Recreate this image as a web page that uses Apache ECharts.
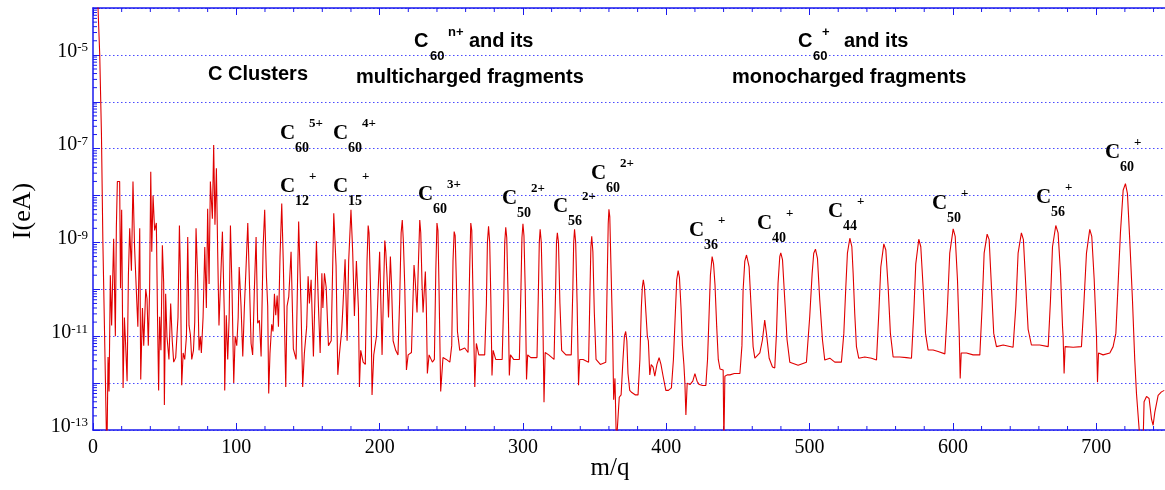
<!DOCTYPE html>
<html><head><meta charset="utf-8">
<script src="https://cdn.jsdelivr.net/npm/echarts@6/dist/echarts.min.js"></script>
<style>html,body{margin:0;padding:0;background:#fff}#c{width:1165px;height:490px}</style>
</head><body><div id="c"></div>
<script>
// ---- data: [m/q, I (A)] ----
const clusterTrace = [
[3.0,2e-4],[3.5,1e-4],[4.7,1e-5],[5.9,2e-7],[6.9,1e-9],[9.3,1e-13],[9.8,5e-14],[10.5,3.6e-12],[11.2,6.6e-13],[12.1,2e-10],[13,1.7e-11],[14.4,1.2e-9],[15.6,1e-11],[16.3,2.1e-9],[17,2e-8],[18.6,2e-8],[19.2,1.05e-10],[20,5e-9],[21,7.9e-13],[21.9,2.5e-11],[22.8,6.3e-12],[23.8,1.1e-12],[24.7,2e-10],[25.6,2e-9],[26.8,2.5e-10],[27.9,2e-8],[29,8e-10],[30.2,1e-10],[31.3,1.6e-11],[32.6,2e-9],[33.3,1.2e-12],[34.5,4e-11],[35.4,6.3e-12],[36.8,1e-10],[37.7,6.3e-11],[38.6,6.3e-12],[39.5,1e-10],[40.3,3.2e-8],[41,6.3e-10],[41.9,1e-8],[43,1.8e-9],[44.2,2.6e-9],[45,2.8e-11],[45.8,7e-13],[46.5,2.6e-11],[47.4,5e-12],[48.4,8.7e-10],[49.3,1.4e-10],[49.8,3.4e-13],[50.7,8e-11],[51.6,1e-11],[53,3.2e-12],[54.2,5e-11],[55.3,8e-12],[56.3,2.8e-12],[57.7,3.5e-12],[58.6,3.2e-12],[59.3,2.5e-11],[60.3,2.3e-9],[61,2.2e-10],[61.9,9e-13],[62.9,4.4e-12],[64,3.2e-12],[65.2,1e-11],[66.1,1.3e-9],[67,1.7e-11],[68,1.05e-11],[68.9,3.2e-12],[70.1,5e-12],[71,2e-11],[71.9,2e-9],[73,1.8e-10],[74,5e-12],[74.9,1e-11],[75.6,4.4e-12],[76.8,2.5e-11],[78,8e-10],[79.1,4e-11],[80,5.2e-9],[81,1.3e-10],[81.9,2e-8],[82.8,2e-8],[83.3,3.2e-9],[84.2,1.2e-7],[85.1,2.4e-9],[86.1,3.8e-8],[87,6.3e-10],[87.9,1.7e-11],[89,1.6e-11],[90.3,1.7e-9],[91.6,3.2e-11],[91.9,7e-13],[93,2.8e-11],[94,3.2e-12],[95,2.5e-11],[95.9,2.3e-9],[97,1e-10],[98.2,1e-12],[99.2,1e-11],[100.3,6.3e-12],[101.3,2.5e-11],[102,3e-10],[103.3,4.4e-11],[104.5,3.7e-12],[105.6,4e-11],[106.8,3e-10],[108,2.6e-9],[109.1,1.6e-10],[110.3,7e-12],[111.4,4e-12],[112.6,1e-10],[113.8,1.3e-9],[114.9,1.9e-11],[116.1,2.2e-11],[117.3,3.7e-12],[118.7,8e-10],[119.8,5e-9],[121,1.9e-10],[121.9,4.4e-11],[122.6,6e-13],[123.5,4.4e-12],[124.7,1.8e-11],[125.6,1.26e-11],[126.6,8e-11],[127.5,2.8e-11],[128.5,7.4e-11],[129.4,1.6e-11],[130.5,5e-10],[131.7,6.8e-9],[132.8,3.5e-10],[134.5,8.3e-13],[135.4,4.4e-11],[136.6,7e-11],[138.2,6.3e-10],[139.8,5.4e-12],[141.7,3.2e-12],[143.5,2.8e-9],[145.1,5e-11],[146.3,8.3e-13],[147.5,4.4e-12],[149.1,1.6e-11],[150.1,1.9e-10],[151,5e-11],[152.2,1.6e-10],[153.8,3.7e-12],[155.9,1.07e-9],[157.3,4.4e-11],[158.5,4.4e-12],[159.7,2.2e-10],[160.4,4e-11],[161.5,2.2e-10],[162.7,1.1e-10],[164.3,6.3e-12],[166.2,8e-12],[168,4.2e-9],[169.6,3.2e-10],[170.8,1.5e-12],[171.9,4e-12],[173.6,1.4e-11],[174.5,5e-11],[175.9,4.4e-10],[177.3,8e-12],[178.4,4e-10],[180,5e-9],[181.2,6.3e-10],[182.4,2.7e-11],[183.8,4e-10],[185.2,4e-11],[185.9,8.3e-13],[186.8,5e-12],[188.5,2.8e-12]
];
const multiTrace = [
[190,2.5e-12],[191.2,4e-10],[192,2.3e-9],[192.6,1.6e-9],[193.4,2e-10],[194,3.5e-11],[194.7,5.6e-13],[195.9,4e-12],[197.8,1e-11],[199,1e-10],[200,6.3e-10],[200.8,6.3e-11],[201.7,4e-12],[202.6,6.3e-11],[203.6,1.1e-9],[204.3,6.3e-10],[205.2,1.8e-10],[206.2,2.5e-11],[207.5,5e-10],[208.3,1.26e-10],[209.4,8e-12],[211.2,5e-12],[212.8,4e-12],[214,6.3e-11],[215,1.6e-9],[215.8,3e-9],[216.6,1e-9],[217.5,1.26e-10],[218.7,1.9e-12],[219.9,4e-12],[222.2,4.5e-12],[223.2,5e-11],[224,3.3e-10],[224.8,1.6e-10],[226.1,3.2e-11],[227,3.2e-10],[228,3e-9],[228.7,1.6e-9],[229.6,1.26e-10],[230.3,3.2e-11],[231.9,2.4e-10],[232.6,4e-11],[233.3,1.6e-12],[234.5,4e-12],[236.8,2.8e-12],[238.2,3.2e-12],[239.2,2.5e-10],[240,2.6e-9],[240.7,1.8e-9],[241.4,1.26e-10],[242.6,6.6e-13],[244.2,3.5e-12],[246.5,3.2e-12],[249,2.8e-12],[250.3,6.3e-12],[251.2,4e-10],[252,1.7e-9],[252.7,1.4e-9],[253.5,1.6e-10],[254.3,1.26e-11],[255.9,5e-12],[259.4,5.6e-12],[261.7,4.5e-12],[262.8,2.5e-10],[263.6,2.6e-9],[264.3,1.8e-9],[265.2,6.3e-11],[266.4,8.3e-13],[267.5,7e-12],[269.2,4e-12],[273.3,4e-12],[274.5,5e-11],[275.2,1e-9],[276,2.2e-9],[276.8,1e-9],[277.6,6.3e-11],[278.4,1.45e-12],[279.2,5e-12],[281,3.2e-12],[285.5,3.2e-12],[286.6,6.3e-11],[287.3,1e-9],[288,2.1e-9],[288.7,1.26e-9],[289.6,8e-11],[290.5,1.45e-12],[291.3,4e-12],[293.5,3.2e-12],[297.5,3.2e-12],[298.6,1e-10],[299.3,1.26e-9],[300,2.5e-9],[300.7,1.4e-9],[301.6,1e-10],[302.5,1.2e-12],[303.3,4e-12],[305.5,3.5e-12],[309.8,3.5e-12],[310.8,1e-10],[311.4,1e-9],[312,1.9e-9],[312.8,1e-9],[313.8,4e-11],[314.7,3.9e-13],[315.5,4.5e-12],[318,4e-12],[321.7,3.2e-12],[322.8,1e-10],[323.4,1e-9],[324,1.6e-9],[324.8,1e-9],[325.8,5e-11],[327,5e-12],[330,4e-12],[333.7,4e-12],[334.8,1e-10],[335.4,1e-9],[336,1.9e-9],[336.8,1e-9],[337.8,5e-11],[338.8,9e-13],[339.6,3.2e-12],[342,3.2e-12],[345.8,2.8e-12],[346.8,1e-10],[347.4,8e-10],[348,1.35e-9],[348.8,6.3e-10],[349.8,3.2e-11],[351,3.2e-12],[354,2.5e-12],[357.8,2.8e-12],[358.8,1.6e-10],[359.5,2.5e-9],[360,5.1e-9],[360.6,3.5e-9],[361.5,2.5e-10],[362.6,1e-11],[363.3,4.4e-13],[364.2,1.26e-12],[365.2,5e-14],[366.3,5e-14],[367.2,5e-13],[368.5,5.6e-13],[369.8,3.2e-12],[370.8,1e-11],[371.7,1.26e-11],[372.5,8e-12],[373.3,1.6e-12],[374.5,7e-13],[376,6.3e-13],[378.5,5.6e-13],[380.3,5.6e-13],[381.6,3.2e-12],[382.6,4e-11],[383.3,1.1e-10],[384,1.6e-10],[384.8,1.1e-10],[385.8,3.2e-11],[386.8,1e-11],[387.5,8e-12],[388.5,1.5e-12],[389.5,2.5e-12],[390.8,2.2e-12],[392,1.4e-12],[393.5,2.5e-12],[395,3.5e-12],[396.3,2.5e-12],[397.8,1.4e-12],[399.7,7e-13],[401.5,7e-13],[403.6,7.9e-13],[405,3.2e-12],[406.2,2.5e-11],[407.3,1.6e-10],[408.3,2.5e-10],[409.2,1.8e-10],[410.3,4e-11],[411.3,6.3e-12],[412.3,2.5e-12],[413,1e-12],[413.7,2.1e-13],[414.6,1e-12],[416.5,9.3e-13],[418.5,1.1e-12],[420,1.6e-12],[421.5,1.1e-12],[423,9.3e-13],[425.5,8.9e-13],[427.6,8.9e-13],[428.8,3.2e-12],[429.8,2.5e-11],[430.8,2e-10],[432,5e-10],[433,3.5e-10],[434,1.26e-10],[435.2,1.6e-11],[436.3,3.2e-12],[437.5,2e-12],[439.7,1.9e-12],[440.2,5e-14],[440.9,1.4e-12],[442.5,1.5e-12],[444.4,1.5e-12],[447.5,1.6e-12],[451.4,1.6e-12]
];
const monoTrace = [
[452.8,6.3e-12],[453.6,9.3e-11],[454.8,4e-10],[456,5.4e-10],[457.8,3e-10],[459.4,3.2e-11],[460.6,6e-12],[461.8,3.4e-12],[465.3,4.4e-12],[467.1,8.3e-12],[468.7,2.2e-11],[469.9,1.15e-11],[471.8,3.4e-12],[474.1,2.2e-12],[475.7,2.1e-12],[476.9,1.15e-11],[478,1.35e-10],[479.2,5e-10],[479.9,6e-10],[481.1,4.3e-10],[482.7,5.9e-11],[484.3,8.3e-12],[486.2,2.8e-12],[492,2.4e-12],[497.8,2.8e-12],[500.1,2.6e-11],[501.8,2.2e-10],[502.9,5.9e-10],[504.1,7.2e-10],[505.5,4.6e-10],[507.1,5.9e-11],[509,8.3e-12],[510.6,3.1e-12],[514.1,3.4e-12],[517.6,2.8e-12],[522.2,2.8e-12],[523.9,1.15e-11],[525.3,1.15e-10],[526.4,5.9e-10],[528.1,1.23e-9],[529.5,8.1e-10],[530.4,2.2e-10],[531.5,3.1e-11],[532.7,6e-12],[534.3,3.4e-12],[538.5,3.6e-12],[543.2,3.4e-12],[546.7,3.1e-12],[548.3,3.1e-11],[549.7,3e-10],[551.8,9.3e-10],[553.2,6.9e-10],[554.8,1.15e-10],[556.4,1.15e-11],[558.3,3.6e-12],[562.9,3.6e-12],[567.6,3.5e-12],[571.1,3.4e-12],[572.7,3.1e-11],[574.1,3.5e-10],[576.2,1.17e-9],[577.6,8.1e-10],[579.2,1.15e-10],[580.9,1.15e-11],[582.7,5.1e-12],[586.2,5.1e-12],[589.7,4.7e-12],[594.4,4.2e-12],[596,3.1e-11],[597.8,5.9e-10],[600.2,1.95e-9],[601.6,1.35e-9],[603.2,1.6e-10],[604.4,1.15e-11],[605.1,1.26e-12],[605.8,4.4e-12],[609.5,4.4e-12],[614.1,4e-12],[618.8,4e-12],[620.4,4.3e-11],[621.8,5.9e-10],[623.9,1.5e-9],[625.3,1.15e-9],[626.9,1.15e-10],[628.5,1.15e-11],[630.4,6e-12],[635.1,6.5e-12],[642,5.8e-12],[643.9,4.3e-11],[645.5,5.9e-10],[647.8,1.6e-9],[649.2,1.15e-9],[650.9,1.15e-10],[652.5,1.4e-11],[654.8,6.5e-12],[660.6,6.5e-12],[666.5,6e-12],[668.1,5.9e-11],[669.5,8.1e-10],[671.8,2.3e-9],[673.4,1.6e-9],[675.1,2.2e-10],[676.5,1.6e-11],[676.9,1e-11],[677.6,1.6e-12],[678.3,6e-12],[683.9,5.8e-12],[689.7,6e-12],[691.3,4.3e-11],[693.2,5.9e-10],[695.5,1.9e-9],[696.9,1.35e-9],[698.6,1.6e-10],[700.2,1e-11],[700.9,1.05e-12],[701.6,4.4e-12],[704.8,4e-12],[709.5,4.4e-12],[711.8,6e-12],[713.7,1.15e-11],[715.3,1.35e-10],[716.9,1.6e-9],[718.8,1.3e-8],[720.4,1.8e-8],[721.8,1.1e-8],[723.4,1.15e-9],[725.3,5.9e-11],[726.9,3.1e-12],[728.1,6e-13],[730,1e-13],[730.8,5e-14],[732.7,5e-14],[733.4,4e-13],[735.1,5.2e-13],[736.9,4.7e-13],[738.6,1.7e-13],[739.7,1.26e-13],[740.9,2.4e-13],[743.2,5.5e-13],[745.5,6.5e-13],[747.5,7e-13]
];
// tick labels: decades labelled on the log axis
const yLabelExponents = [-13, -11, -9, -7, -5];
const xTickStep = 100;
const xMinorStep = 20;
const xMax = 748;

// peak annotations: main symbol C, subscript (atoms), superscript (charge)
const peakLabels = [
  {x:280, y:134, sub:'60', sup:'5+'},
  {x:333, y:134, sub:'60', sup:'4+'},
  {x:280, y:187, sub:'12', sup:'+'},
  {x:333, y:187, sub:'15', sup:'+'},
  {x:418, y:195, sub:'60', sup:'3+'},
  {x:502, y:199, sub:'50', sup:'2+'},
  {x:553, y:207, sub:'56', sup:'2+'},
  {x:591, y:174, sub:'60', sup:'2+'},
  {x:689, y:231, sub:'36', sup:'+'},
  {x:757, y:224, sub:'40', sup:'+'},
  {x:828, y:212, sub:'44', sup:'+'},
  {x:932, y:204, sub:'50', sup:'+'},
  {x:1036, y:198, sub:'56', sup:'+'},
  {x:1105, y:153, sub:'60', sup:'+'}
];

const BLUE = '#1a1aee';
const SERIF = '"Liberation Serif", "Times New Roman", serif';
const SANS = '"Liberation Sans", Arial, sans-serif';

const chart = echarts.init(document.getElementById('c'), null, {renderer: 'canvas'});
const allData = clusterTrace.concat(multiTrace, monoTrace);

const xCommon = {
  type: 'value', min: 0, max: xMax, interval: xTickStep,
  axisLine: {show: true, onZero: false, lineStyle: {color: BLUE, width: 1.5}},
  axisTick: {show: true, inside: true, length: 7, lineStyle: {color: BLUE, width: 1},
    customValues: [0, 100, 200, 300, 400, 500, 600, 700]},
  minorTick: {show: false},
  splitLine: {show: false}
};

chart.setOption({
  animation: false,
  grid: {left: 93, right: 0, top: 8, bottom: 60, containLabel: false},
  xAxis: [
    Object.assign({}, xCommon, {
      position: 'bottom',
      axisLabel: {show: true, fontFamily: SERIF, fontSize: 20, color: '#000', margin: 8,
        showMaxLabel: false}
    }),
    Object.assign({}, xCommon, {position: 'top', axisLabel: {show: false}})
  ],
  yAxis: [{
    type: 'log', logBase: 10, min: 1e-13, max: 1e-4, splitNumber: 9,
    axisLine: {show: true, lineStyle: {color: BLUE, width: 1.5}},
    axisTick: {show: true, inside: true, length: 7, lineStyle: {color: BLUE}},
    splitLine: {show: true, lineStyle: {color: '#4a4aff', type: [1.5, 2.5], width: 1}},
    axisLabel: {
      show: true, margin: 5, padding: [0, 0, 7, 0],
      formatter: function (v) {
        const e = Math.round(Math.log10(v));
        return yLabelExponents.indexOf(e) >= 0 ? '{b|10}{s|' + e + '}' : '';
      },
      rich: {
        b: {fontFamily: SERIF, fontSize: 20, lineHeight: 20, color: '#000', verticalAlign: 'bottom', padding: [4, 0, 0, 0]},
        s: {fontFamily: SERIF, fontSize: 13, lineHeight: 13, color: '#000', verticalAlign: 'top'}
      }
    }
  }],
  series: [{
    type: 'line', data: allData, xAxisIndex: 0, yAxisIndex: 0,
    showSymbol: false, symbol: 'none', clip: true, sampling: null,
    lineStyle: {color: '#e00000', width: 1.1},
    z: 3
  }]
});

// graphic: minor ticks (log on y, every 20 on x), annotations, axis titles
const g = [];
const x0 = chart.convertToPixel({xAxisIndex: 0}, 0);
const yBot = chart.convertToPixel({yAxisIndex: 0}, 1e-13);
const yTop = chart.convertToPixel({yAxisIndex: 0}, 1e-4);
for (let d = -13; d < -4; d++) {
  for (let k = 2; k <= 9; k++) {
    const y = chart.convertToPixel({yAxisIndex: 0}, k * Math.pow(10, d));
    g.push({type: 'line', silent: true, shape: {x1: x0, y1: y, x2: x0 + 4, y2: y},
      style: {stroke: BLUE, lineWidth: 1}});
  }
}
for (let m = xMinorStep; m < xMax; m += xMinorStep) {
  if (m % xTickStep === 0) continue;
  const x = chart.convertToPixel({xAxisIndex: 0}, m);
  g.push({type: 'line', silent: true, shape: {x1: x, y1: yBot, x2: x, y2: yBot - 4},
    style: {stroke: BLUE, lineWidth: 1}});
  g.push({type: 'line', silent: true, shape: {x1: x, y1: yTop, x2: x, y2: yTop + 4},
    style: {stroke: BLUE, lineWidth: 1}});
}
function txt(x, y, text, font, align, rot) {
  return {type: 'text', x: x, y: y, rotation: rot || 0, silent: true, z: 10,
    style: {text: text, font: font, fill: '#000', align: align || 'left', verticalAlign: 'middle'}};
}
peakLabels.forEach(function (p) {
  g.push(txt(p.x, p.y, 'C', 'bold 21px ' + SERIF));
  g.push(txt(p.x + 15, p.y + 14, p.sub, 'bold 14px ' + SERIF));
  g.push(txt(p.x + 29, p.y - 10, p.sup, 'bold 13px ' + SERIF));
});
// group titles
const F20 = 'bold 20px ' + SANS, F13 = 'bold 13px ' + SANS;
g.push(txt(208, 74, 'C Clusters', F20));
g.push(txt(414, 41, 'C', F20));
g.push(txt(430, 56, '60', F13));
g.push(txt(448, 32, 'n+', F13));
g.push(txt(469, 41, 'and its', F20));
g.push(txt(356, 77, 'multicharged fragments', F20));
g.push(txt(798, 41, 'C', F20));
g.push(txt(813, 56, '60', F13));
g.push(txt(822, 32, '+', F13));
g.push(txt(844, 41, 'and its', F20));
g.push(txt(732, 77, 'monocharged fragments', F20));
// axis titles
g.push(txt(610, 468, 'm/q', '25px ' + SERIF, 'center'));
g.push(txt(23, 211, 'I(eA)', '26px ' + SERIF, 'center', Math.PI / 2));
chart.setOption({graphic: g});
</script></body></html>
